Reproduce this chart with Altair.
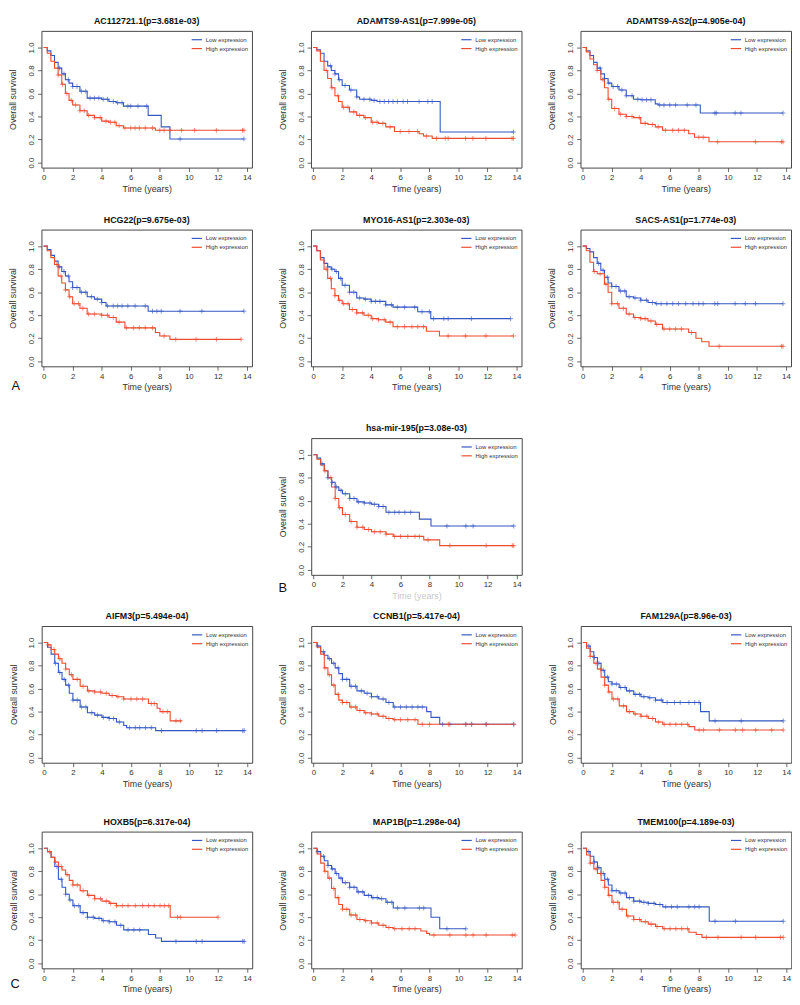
import altair as alt
import pandas as pd

BLUE = "#3557c4"
RED = "#ee4b2f"
FONT = "Liberation Sans"
W, H = 214, 139
GROUPS = ["Low expression", "High expression"]
X_TICKS = [0, 2, 4, 6, 8, 10, 12, 14]
Y_TICKS = [0.0, 0.2, 0.4, 0.6, 0.8, 1.0]

# ---------- panel 1: AC112721.1 ----------
p1_title = "AC112721.1(p=3.681e-03)"
p1_low_t = [0, 0.25, 0.5, 0.75, 1, 1.25, 1.5, 1.75, 2, 2.5, 3, 4, 4.5, 5, 5.5, 7.2, 8.1, 8.7, 13.8]
p1_low_s = [1, 0.97, 0.93, 0.87, 0.82, 0.77, 0.72, 0.69, 0.66, 0.62, 0.56, 0.55, 0.53, 0.52, 0.49, 0.41, 0.31, 0.205, 0.205]
p1_low_c = [1.1, 1.4, 1.7, 2.0, 2.3, 2.6, 2.9, 3.2, 3.5, 3.8, 4.1, 4.4, 4.8, 5.1, 5.4, 5.8, 6.0, 6.5, 7.1, 9.4, 13.8]
p1_high_t = [0, 0.25, 0.5, 0.75, 1, 1.25, 1.5, 1.75, 2, 2.5, 3, 3.5, 4, 4.5, 5, 5.5, 7.7, 13.8]
p1_high_s = [1, 0.95, 0.88, 0.82, 0.76, 0.68, 0.60, 0.54, 0.50, 0.45, 0.41, 0.39, 0.36, 0.35, 0.32, 0.30, 0.28, 0.28]
p1_high_c = [1.0, 1.3, 1.6, 1.9, 2.2, 2.5, 2.8, 3.1, 3.5, 3.9, 4.3, 4.6, 4.9, 5.2, 5.6, 6.0, 6.3, 6.6, 7.0, 7.5, 8.0, 8.3, 8.7, 9.5, 10.4, 11.9, 13.7, 13.8]

# ---------- panel 2: ADAMTS9-AS1 ----------
p2_title = "ADAMTS9-AS1(p=7.999e-05)"
p2_low_t = [0, 0.25, 0.5, 0.75, 1, 1.25, 1.5, 1.75, 2, 2.5, 3, 3.2, 4, 4.4, 8.75, 13.8]
p2_low_s = [1, 0.98, 0.95, 0.88, 0.84, 0.80, 0.77, 0.72, 0.67, 0.63, 0.57, 0.55, 0.54, 0.53, 0.265, 0.265]
p2_low_c = [1.2, 1.5, 1.8, 2.2, 2.6, 3.0, 3.5, 3.9, 4.2, 4.6, 4.9, 5.2, 5.5, 5.8, 6.2, 6.5, 7.3, 7.9, 8.2, 13.8]
p2_high_t = [0, 0.25, 0.5, 0.75, 1, 1.25, 1.5, 1.75, 2, 2.5, 3, 3.5, 4, 4.5, 5, 5.6, 7.3, 7.6, 8.2, 13.8]
p2_high_s = [1, 0.97, 0.88, 0.80, 0.73, 0.65, 0.58, 0.53, 0.48, 0.44, 0.41, 0.39, 0.35, 0.34, 0.31, 0.27, 0.25, 0.23, 0.21, 0.21]
p2_high_c = [0.9, 1.3, 1.7, 2.1, 2.4, 2.8, 3.2, 3.6, 4.1, 4.4, 4.8, 5.3, 6.0, 6.6, 7.2, 7.8, 8.5, 9.1, 9.3, 10.5, 11.0, 11.9, 13.7, 13.8]

# ---------- panel 3: ADAMTS9-AS2 ----------
p3_title = "ADAMTS9-AS2(p=4.905e-04)"
p3_low_t = [0, 0.25, 0.5, 0.75, 1, 1.25, 1.5, 1.75, 2, 2.5, 3, 3.5, 4, 5, 5.2, 8.1, 13.8]
p3_low_s = [1, 0.97, 0.93, 0.87, 0.82, 0.77, 0.73, 0.69, 0.66, 0.63, 0.58, 0.55, 0.545, 0.51, 0.50, 0.43, 0.43]
p3_low_c = [1.2, 1.5, 1.8, 2.1, 2.4, 2.7, 3.0, 3.4, 3.8, 4.1, 4.4, 4.7, 5.3, 5.6, 6.0, 6.4, 7.2, 7.8, 9.1, 9.2, 10.5, 10.9, 13.8]
p3_high_t = [0, 0.25, 0.5, 0.75, 1, 1.25, 1.5, 1.75, 2, 2.5, 3, 3.5, 4, 4.5, 5, 5.5, 7.3, 7.7, 8.7, 13.8]
p3_high_s = [1, 0.96, 0.90, 0.85, 0.80, 0.72, 0.65, 0.55, 0.47, 0.42, 0.40, 0.39, 0.34, 0.33, 0.31, 0.28, 0.25, 0.22, 0.18, 0.18]
p3_high_c = [1.0, 1.4, 1.8, 2.2, 2.6, 3.0, 3.4, 3.9, 4.3, 4.8, 5.2, 5.7, 6.2, 6.6, 7.0, 8.0, 8.3, 9.3, 11.9, 13.7, 13.8]

# ---------- panel 4: HCG22 ----------
p4_title = "HCG22(p=9.675e-03)"
p4_low_t = [0, 0.25, 0.5, 0.75, 1, 1.25, 1.5, 1.75, 2, 2.5, 3, 3.5, 4, 4.3, 7.2, 13.8]
p4_low_s = [1, 0.97, 0.92, 0.87, 0.82, 0.78, 0.74, 0.69, 0.64, 0.60, 0.56, 0.54, 0.51, 0.48, 0.435, 0.435]
p4_low_c = [1.1, 1.4, 1.7, 2.0, 2.3, 2.6, 2.9, 3.3, 3.7, 4.0, 4.4, 4.8, 5.1, 5.4, 5.8, 6.3, 7.0, 7.5, 7.8, 8.1, 9.4, 10.9, 13.8]
p4_high_t = [0, 0.25, 0.5, 0.75, 1, 1.25, 1.5, 1.75, 2, 2.5, 3, 4, 4.5, 5, 5.6, 7.7, 8.0, 8.7, 13.6]
p4_high_s = [1, 0.96, 0.90, 0.84, 0.74, 0.68, 0.62, 0.56, 0.50, 0.46, 0.41, 0.40, 0.38, 0.34, 0.29, 0.25, 0.22, 0.19, 0.19]
p4_high_c = [0.9, 1.2, 1.5, 1.8, 2.1, 2.4, 2.7, 3.1, 3.5, 4.0, 4.4, 4.8, 5.2, 5.7, 6.2, 6.6, 7.0, 7.5, 8.3, 9.1, 10.5, 11.9, 13.6]

# ---------- panel 5: MYO16-AS1 ----------
p5_title = "MYO16-AS1(p=2.303e-03)"
p5_low_t = [0, 0.25, 0.5, 0.75, 1, 1.25, 1.5, 1.75, 2, 2.5, 3, 3.5, 4, 5, 5.5, 7.2, 8.1, 13.6]
p5_low_s = [1, 0.96, 0.90, 0.85, 0.82, 0.80, 0.78, 0.72, 0.66, 0.60, 0.55, 0.54, 0.52, 0.49, 0.47, 0.43, 0.37, 0.37]
p5_low_c = [1.0, 1.3, 1.6, 1.9, 2.2, 2.5, 2.8, 3.2, 3.6, 4.0, 4.3, 4.6, 5.0, 5.4, 5.8, 6.3, 7.0, 7.5, 8.0, 8.3, 9.0, 9.3, 10.9, 13.6]
p5_high_t = [0, 0.25, 0.5, 0.75, 1, 1.25, 1.5, 1.75, 2, 2.5, 3, 3.5, 4, 4.5, 5, 5.5, 7.8, 8.7, 13.8]
p5_high_s = [1, 0.96, 0.88, 0.80, 0.72, 0.63, 0.57, 0.53, 0.50, 0.45, 0.42, 0.40, 0.37, 0.36, 0.34, 0.30, 0.26, 0.22, 0.22]
p5_high_c = [0.9, 1.2, 1.5, 1.8, 2.1, 2.4, 2.7, 3.0, 3.4, 3.8, 4.1, 4.5, 4.9, 5.3, 5.8, 6.3, 6.8, 7.2, 7.6, 9.3, 10.5, 11.9, 13.8]

# ---------- panel 6: SACS-AS1 ----------
p6_title = "SACS-AS1(p=1.774e-03)"
p6_low_t = [0, 0.25, 0.5, 0.75, 1, 1.25, 1.5, 1.75, 2, 2.5, 3, 3.5, 4, 4.5, 5, 13.8]
p6_low_s = [1, 0.98, 0.95, 0.90, 0.85, 0.79, 0.73, 0.68, 0.65, 0.61, 0.56, 0.55, 0.53, 0.51, 0.50, 0.50]
p6_low_c = [1.1, 1.4, 1.7, 2.0, 2.3, 2.6, 2.9, 3.2, 3.6, 4.0, 4.4, 4.8, 5.1, 5.4, 5.8, 6.2, 6.6, 7.1, 7.6, 8.0, 8.3, 9.1, 9.3, 10.5, 11.2, 11.9, 13.8]
p6_high_t = [0, 0.25, 0.5, 0.75, 1, 1.5, 1.75, 2, 2.5, 3, 3.5, 4, 4.5, 5, 5.5, 7.3, 7.8, 8.2, 8.7, 13.8]
p6_high_s = [1, 0.96, 0.86, 0.78, 0.76, 0.67, 0.60, 0.50, 0.46, 0.41, 0.38, 0.37, 0.35, 0.32, 0.28, 0.25, 0.20, 0.17, 0.13, 0.13]
p6_high_c = [0.8, 1.2, 1.6, 2.0, 2.4, 2.8, 3.2, 3.6, 4.0, 4.3, 4.7, 5.1, 5.6, 6.0, 6.4, 6.8, 7.5, 9.4, 13.7, 13.8]

# ---------- panel 7: hsa-mir-195 ----------
p7_title = "hsa-mir-195(p=3.08e-03)"
p7_low_t = [0, 0.25, 0.5, 0.75, 1, 1.25, 1.5, 1.75, 2, 2.5, 3, 3.5, 4, 4.5, 5, 7.3, 8.1, 13.8]
p7_low_s = [1, 0.97, 0.92, 0.86, 0.80, 0.76, 0.72, 0.69, 0.66, 0.62, 0.59, 0.58, 0.57, 0.55, 0.50, 0.44, 0.38, 0.38]
p7_low_c = [0.6, 1.0, 1.3, 1.6, 1.9, 2.2, 2.5, 2.8, 3.1, 3.5, 3.9, 4.2, 4.5, 4.8, 5.2, 5.6, 5.9, 6.3, 6.7, 9.2, 10.5, 11.0, 13.8]
p7_high_t = [0, 0.25, 0.5, 0.75, 1, 1.25, 1.5, 1.75, 2, 2.5, 3, 3.5, 4, 5, 5.5, 7.6, 8.7, 13.8]
p7_high_s = [1, 0.96, 0.91, 0.86, 0.80, 0.72, 0.62, 0.54, 0.48, 0.42, 0.37, 0.35, 0.33, 0.31, 0.29, 0.26, 0.21, 0.21]
p7_high_c = [0.8, 1.2, 1.5, 1.8, 2.2, 2.6, 3.0, 3.4, 3.8, 4.2, 4.6, 5.0, 5.6, 6.0, 6.5, 7.0, 7.3, 7.9, 9.4, 11.9, 13.7, 13.8]

# ---------- panel 8: AIFM3 ----------
p8_title = "AIFM3(p=5.494e-04)"
p8_low_t = [0, 0.25, 0.5, 0.75, 1, 1.25, 1.5, 1.75, 2, 2.5, 3, 3.5, 4, 4.5, 5, 5.5, 5.7, 7.7, 13.8]
p8_low_s = [1, 0.96, 0.90, 0.82, 0.74, 0.68, 0.63, 0.56, 0.50, 0.44, 0.39, 0.37, 0.35, 0.34, 0.31, 0.28, 0.26, 0.235, 0.235]
p8_low_c = [0.8, 1.1, 1.4, 1.7, 2.0, 2.3, 2.6, 2.9, 3.3, 3.7, 4.1, 4.5, 4.8, 5.2, 5.9, 6.3, 6.6, 7.0, 7.4, 8.1, 10.5, 10.9, 11.9, 13.7, 13.8]
p8_high_t = [0, 0.25, 0.5, 0.75, 1, 1.25, 1.5, 1.75, 2, 2.5, 3, 3.5, 4, 4.5, 5, 5.5, 7.2, 7.8, 8.0, 8.7, 9.5]
p8_high_s = [1, 0.98, 0.94, 0.90, 0.86, 0.82, 0.77, 0.72, 0.68, 0.62, 0.58, 0.57, 0.56, 0.54, 0.53, 0.51, 0.47, 0.43, 0.40, 0.32, 0.32]
p8_high_c = [0.3, 0.7, 1.1, 1.5, 1.9, 2.3, 2.7, 3.1, 3.5, 3.9, 4.3, 4.7, 5.1, 5.5, 6.0, 6.4, 6.8, 7.4, 7.6, 8.2, 8.5, 9.1, 9.4]

# ---------- panel 9: CCNB1 ----------
p9_title = "CCNB1(p=5.417e-04)"
p9_low_t = [0, 0.25, 0.5, 0.75, 1, 1.25, 1.5, 1.75, 2, 2.5, 3, 3.5, 4, 4.5, 5, 5.5, 7.8, 8.1, 8.7, 13.8]
p9_low_s = [1, 0.97, 0.92, 0.89, 0.86, 0.82, 0.78, 0.73, 0.68, 0.62, 0.58, 0.56, 0.53, 0.51, 0.48, 0.44, 0.40, 0.35, 0.29, 0.29]
p9_low_c = [0.3, 0.7, 1.1, 1.4, 1.7, 2.0, 2.3, 2.6, 2.9, 3.3, 3.7, 4.0, 4.4, 4.8, 5.2, 5.6, 6.0, 6.4, 6.8, 7.2, 7.5, 8.9, 9.4, 10.5, 10.9, 11.9, 13.8]
p9_high_t = [0, 0.25, 0.5, 0.75, 1, 1.25, 1.5, 1.75, 2, 2.5, 3, 3.5, 4, 4.5, 5, 5.5, 7.2, 13.8]
p9_high_s = [1, 0.96, 0.90, 0.78, 0.72, 0.63, 0.55, 0.50, 0.48, 0.44, 0.41, 0.39, 0.38, 0.36, 0.34, 0.33, 0.29, 0.29]
p9_high_c = [0.8, 1.1, 1.4, 1.7, 2.0, 2.3, 2.6, 2.9, 3.2, 3.6, 4.0, 4.4, 4.8, 5.2, 5.6, 6.0, 6.5, 7.0, 7.5, 8.0, 9.3, 10.5, 10.9, 11.9, 13.8]

# ---------- panel 10: FAM129A ----------
p10_title = "FAM129A(p=8.96e-03)"
p10_low_t = [0, 0.25, 0.5, 0.75, 1, 1.25, 1.5, 1.75, 2, 2.5, 3, 3.5, 4, 4.5, 5, 5.5, 8.1, 8.7, 13.8]
p10_low_s = [1, 0.97, 0.92, 0.87, 0.82, 0.76, 0.70, 0.66, 0.64, 0.61, 0.58, 0.55, 0.53, 0.52, 0.50, 0.48, 0.40, 0.32, 0.32]
p10_low_c = [0.4, 0.8, 1.1, 1.4, 1.7, 2.0, 2.3, 2.6, 2.9, 3.2, 3.6, 3.9, 4.2, 4.6, 5.0, 5.4, 5.8, 6.3, 6.7, 7.3, 7.7, 8.0, 9.1, 10.9, 13.8]
p10_high_t = [0, 0.25, 0.5, 0.75, 1, 1.25, 1.5, 1.75, 2, 2.5, 3, 3.5, 4, 4.5, 5, 5.5, 7.3, 7.7, 13.8]
p10_high_s = [1, 0.95, 0.88, 0.82, 0.77, 0.70, 0.63, 0.57, 0.51, 0.45, 0.40, 0.38, 0.36, 0.34, 0.31, 0.29, 0.27, 0.24, 0.24]
p10_high_c = [0.5, 0.9, 1.2, 1.5, 1.8, 2.1, 2.4, 2.8, 3.2, 3.6, 4.0, 4.4, 4.8, 5.2, 5.6, 6.0, 6.4, 6.8, 7.2, 8.0, 8.3, 9.4, 10.5, 11.0, 11.9, 13.0, 13.8]

# ---------- panel 11: HOXB5 ----------
p11_title = "HOXB5(p=6.317e-04)"
p11_low_t = [0, 0.25, 0.5, 0.75, 1, 1.25, 1.5, 1.75, 2, 2.5, 3, 3.5, 4, 4.5, 5, 5.5, 7.2, 7.7, 8.1, 13.8]
p11_low_s = [1, 0.97, 0.92, 0.84, 0.73, 0.66, 0.60, 0.55, 0.50, 0.44, 0.40, 0.39, 0.37, 0.36, 0.33, 0.29, 0.25, 0.22, 0.19, 0.19]
p11_low_c = [0.9, 1.2, 1.5, 1.8, 2.1, 2.4, 2.7, 3.0, 3.4, 3.8, 4.1, 4.5, 4.9, 5.3, 5.8, 6.2, 6.6, 9.1, 10.5, 10.9, 13.7, 13.8]
p11_high_t = [0, 0.25, 0.5, 0.75, 1, 1.25, 1.5, 1.75, 2, 2.5, 3, 3.5, 4, 4.5, 5, 8.7, 12.0]
p11_high_s = [1, 0.97, 0.92, 0.88, 0.84, 0.81, 0.77, 0.72, 0.68, 0.63, 0.59, 0.56, 0.54, 0.52, 0.50, 0.40, 0.40]
p11_high_c = [0.4, 0.8, 1.2, 1.6, 2.0, 2.3, 2.7, 3.1, 3.5, 3.9, 4.3, 4.6, 5.0, 5.4, 5.8, 6.3, 6.8, 7.2, 7.6, 8.0, 8.3, 8.6, 9.2, 9.4, 12.0]

# ---------- panel 12: MAP1B ----------
p12_title = "MAP1B(p=1.298e-04)"
p12_low_t = [0, 0.25, 0.5, 0.75, 1, 1.25, 1.5, 1.75, 2, 2.5, 3, 3.5, 4, 4.5, 5, 5.5, 8.1, 8.7, 10.5]
p12_low_s = [1, 0.97, 0.93, 0.89, 0.85, 0.82, 0.78, 0.74, 0.70, 0.66, 0.62, 0.59, 0.57, 0.56, 0.53, 0.48, 0.40, 0.30, 0.30]
p12_low_c = [0.3, 0.7, 1.0, 1.3, 1.6, 1.9, 2.2, 2.5, 2.8, 3.1, 3.4, 3.8, 4.1, 4.4, 4.7, 5.1, 5.4, 5.8, 6.3, 7.3, 7.6, 9.2, 10.5]
p12_high_t = [0, 0.25, 0.5, 0.75, 1, 1.25, 1.5, 1.75, 2, 2.5, 3, 3.5, 4, 4.5, 5, 5.5, 7.4, 7.8, 8.0, 13.9]
p12_high_s = [1, 0.95, 0.87, 0.80, 0.74, 0.65, 0.57, 0.51, 0.47, 0.42, 0.38, 0.37, 0.35, 0.33, 0.31, 0.30, 0.28, 0.26, 0.245, 0.245]
p12_high_c = [0.8, 1.1, 1.4, 1.7, 2.0, 2.3, 2.6, 2.9, 3.2, 3.6, 4.0, 4.4, 4.8, 5.2, 5.6, 6.1, 6.6, 7.0, 8.3, 9.4, 10.5, 11.0, 11.9, 13.7, 13.9]

# ---------- panel 13: TMEM100 ----------
p13_title = "TMEM100(p=4.189e-03)"
p13_low_t = [0, 0.25, 0.5, 0.75, 1, 1.25, 1.5, 1.75, 2, 2.5, 3, 3.5, 4, 4.5, 5, 5.5, 8.7, 13.8]
p13_low_s = [1, 0.97, 0.93, 0.88, 0.83, 0.78, 0.73, 0.68, 0.63, 0.61, 0.57, 0.54, 0.53, 0.52, 0.51, 0.49, 0.365, 0.365]
p13_low_c = [0.4, 0.8, 1.1, 1.4, 1.7, 2.0, 2.3, 2.6, 2.9, 3.2, 3.5, 3.9, 4.2, 4.5, 4.9, 5.3, 5.7, 6.1, 6.5, 7.3, 7.7, 8.0, 9.1, 10.5, 13.8]
p13_high_t = [0, 0.25, 0.5, 0.75, 1, 1.25, 1.5, 1.75, 2, 2.5, 3, 3.5, 4, 4.5, 5, 5.5, 7.3, 7.8, 8.2, 13.8]
p13_high_s = [1, 0.94, 0.87, 0.82, 0.78, 0.72, 0.66, 0.59, 0.53, 0.47, 0.41, 0.38, 0.36, 0.34, 0.32, 0.30, 0.27, 0.25, 0.225, 0.225]
p13_high_c = [0.5, 0.9, 1.2, 1.5, 1.8, 2.1, 2.4, 2.7, 3.1, 3.5, 3.9, 4.3, 4.7, 5.1, 5.6, 6.0, 6.4, 6.8, 7.2, 8.5, 9.3, 10.9, 11.9, 13.6, 13.8]


def step_value(ts, ss, t):
    v = ss[0]
    for ti, si in zip(ts, ss):
        if ti <= t:
            v = si
    return v


CENSOR_SHAPE = "M0,-1L0,1M-1,0L1,0"


def panel(title, lt, ls, lc, ht, hs, hc, letter=None, letter_dx=-25, letter_dy=20, xtitle_color="#333"):
    rows, cens = [], []
    for g, ts, ss, cs in ((GROUPS[0], lt, ls, lc), (GROUPS[1], ht, hs, hc)):
        for t, s in zip(ts, ss):
            rows.append({"group": g, "time": t, "surv": s})
        for c in cs:
            cens.append({"group": g, "time": c, "surv": step_value(ts, ss, c)})
    df = pd.DataFrame(rows)
    cdf = pd.DataFrame(cens)

    x = alt.X("time:Q",
              scale=alt.Scale(domain=[-0.15, 14.35], nice=False, zero=False),
              axis=alt.Axis(values=X_TICKS, format="d", title="Time (years)",
                            titleColor=xtitle_color, labelOverlap=False, labelFlush=False))
    y = alt.Y("surv:Q",
              scale=alt.Scale(domain=[-0.044, 1.144], nice=False, zero=False),
              axis=alt.Axis(values=Y_TICKS, format=".1f", title="Overall survival",
                            labelAngle=270, labelAlign="center", labelBaseline="bottom",
                            labelOverlap=False, labelFlush=False))
    cscale = alt.Scale(domain=GROUPS, range=[BLUE, RED])

    lines = alt.Chart(df).mark_line(interpolate="step-after", strokeWidth=1.1).encode(
        x=x, y=y,
        color=alt.Color("group:N", scale=cscale, sort=GROUPS,
                        legend=alt.Legend(orient="top-right", title=None, offset=3, padding=0,
                                          labelFontSize=6, labelColor="#333", labelFont=FONT,
                                          symbolType="stroke", symbolSize=110, symbolStrokeWidth=1.2,
                                          rowPadding=-3, labelOffset=3)),
        order=alt.Order("time:Q"),
    )
    marks = alt.Chart(cdf).mark_point(shape=CENSOR_SHAPE, filled=False, size=24, strokeWidth=0.9).encode(
        x=x, y=y,
        color=alt.Color("group:N", scale=cscale, legend=None),
    )
    layers = [lines, marks]
    if letter:
        lab = alt.Chart(pd.DataFrame({"l": [letter]})).mark_text(
            fontSize=13, font=FONT, align="center", baseline="middle", color="#111"
        ).encode(text="l:N", x=alt.value(letter_dx), y=alt.value(H + letter_dy))
        layers.append(lab)
    return alt.layer(*layers).properties(
        width=W, height=H,
        title=alt.TitleParams(title, fontSize=9, fontWeight="bold", font=FONT, color="#111", offset=5),
    )


c1 = panel(p1_title, p1_low_t, p1_low_s, p1_low_c, p1_high_t, p1_high_s, p1_high_c)
c2 = panel(p2_title, p2_low_t, p2_low_s, p2_low_c, p2_high_t, p2_high_s, p2_high_c)
c3 = panel(p3_title, p3_low_t, p3_low_s, p3_low_c, p3_high_t, p3_high_s, p3_high_c)
c4 = panel(p4_title, p4_low_t, p4_low_s, p4_low_c, p4_high_t, p4_high_s, p4_high_c, letter="A", letter_dx=-26, letter_dy=20)
c5 = panel(p5_title, p5_low_t, p5_low_s, p5_low_c, p5_high_t, p5_high_s, p5_high_c)
c6 = panel(p6_title, p6_low_t, p6_low_s, p6_low_c, p6_high_t, p6_high_s, p6_high_c)
c7 = panel(p7_title, p7_low_t, p7_low_s, p7_low_c, p7_high_t, p7_high_s, p7_high_c, letter="B", letter_dx=-29, letter_dy=13, xtitle_color="#c8c8c8")
c8 = panel(p8_title, p8_low_t, p8_low_s, p8_low_c, p8_high_t, p8_high_s, p8_high_c)
c9 = panel(p9_title, p9_low_t, p9_low_s, p9_low_c, p9_high_t, p9_high_s, p9_high_c)
c10 = panel(p10_title, p10_low_t, p10_low_s, p10_low_c, p10_high_t, p10_high_s, p10_high_c)
c11 = panel(p11_title, p11_low_t, p11_low_s, p11_low_c, p11_high_t, p11_high_s, p11_high_c, letter="C", letter_dx=-27, letter_dy=16)
c12 = panel(p12_title, p12_low_t, p12_low_s, p12_low_c, p12_high_t, p12_high_s, p12_high_c)
c13 = panel(p13_title, p13_low_t, p13_low_s, p13_low_c, p13_high_t, p13_high_s, p13_high_c)

HS = 25
row1 = alt.hconcat(c1, c2, c3, spacing=HS).resolve_scale(color="independent")
row2 = alt.hconcat(c4, c5, c6, spacing=HS).resolve_scale(color="independent")
row4 = alt.hconcat(c8, c9, c10, spacing=HS).resolve_scale(color="independent")
row5 = alt.hconcat(c11, c12, c13, spacing=HS).resolve_scale(color="independent")

top = alt.vconcat(row1, row2, spacing=21).resolve_scale(color="independent")
bottom = alt.vconcat(row4, row5, spacing=28).resolve_scale(color="independent")
lower = alt.VConcatChart(vconcat=[c7, bottom], spacing=10, center=True).resolve_scale(color="independent")
chart = alt.VConcatChart(vconcat=[top, lower], spacing=30, padding=0).resolve_scale(color="independent").configure(
    font=FONT,
).configure_view(
    stroke="#444", strokeWidth=1,
).configure_axis(
    grid=False, domain=False, tickSize=4, tickColor="#444", tickWidth=0.8,
    labelFontSize=8, labelColor="#333", labelFont=FONT, labelPadding=2, labelOverlap=False,
    titleFontSize=9, titleColor="#333", titleFont=FONT, titleFontWeight="normal",
).configure_axisX(titlePadding=3).configure_axisY(titlePadding=10)

chart.save("out.html", embed_options={"renderer": "svg", "actions": False})
